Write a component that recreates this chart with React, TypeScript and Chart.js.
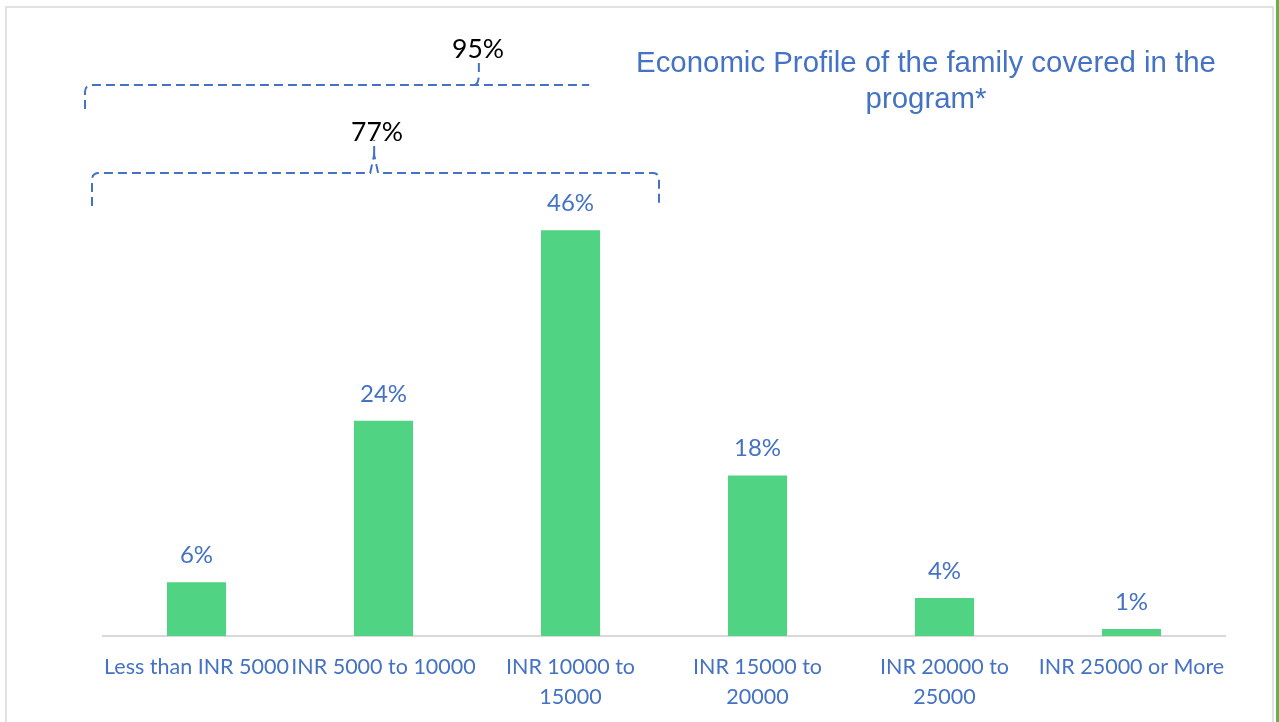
import React, { useEffect, useRef } from "react";
import { Chart, registerables } from "chart.js";

Chart.register(...registerables);

const categories: (string | string[])[] = [
  "Less than INR 5000",
  "INR 5000 to 10000",
  ["INR 10000 to", "15000"],
  ["INR 15000 to", "20000"],
  ["INR 20000 to", "25000"],
  "INR 25000 or More",
];
const shareValues: number[] = [6.1, 24.4, 46.0, 18.2, 4.3, 0.8];
const titleLines: string[] = ["Economic Profile of the family covered in the", "program*"];
const bracketLabels: string[] = ["95%", "77%"];

const BLUE = "#4472C4";
const GREEN = "#50D383";
const LABEL_FONT = "Lato, 'Noto Sans', sans-serif";

const decorPlugin = {
  id: "decor",
  beforeDraw(chart: any) {
    const ctx = chart.ctx;
    ctx.save();
    ctx.fillStyle = "#ffffff";
    ctx.fillRect(0, 0, chart.width, chart.height);
    // frame
    ctx.strokeStyle = "#D9D9D9";
    ctx.lineWidth = 1.5;
    ctx.beginPath();
    ctx.moveTo(6, 722);
    ctx.lineTo(6, 7);
    ctx.lineTo(1273, 7);
    ctx.lineTo(1273, 722);
    ctx.stroke();
    ctx.fillStyle = "#70AD47";
    ctx.fillRect(1276, 0, 3, 722);
    ctx.restore();
  },
  afterDraw(chart: any) {
    const ctx = chart.ctx;
    const x = chart.scales.x;
    ctx.save();
    // title
    ctx.fillStyle = BLUE;
    ctx.font = "29.4px 'Liberation Sans', Arial, sans-serif";
    ctx.textAlign = "center";
    ctx.textBaseline = "alphabetic";
    ctx.fillText(titleLines[0], 926, 72);
    ctx.fillText(titleLines[1], 926, 108);

    // data labels
    const meta = chart.getDatasetMeta(0);
    ctx.font = `24px ${LABEL_FONT}`;
    ctx.fillStyle = BLUE;
    meta.data.forEach((bar: any, i: number) => {
      ctx.fillText(Math.round(shareValues[i]) + "%", bar.x, bar.y - 19);
    });

    // brackets
    ctx.strokeStyle = BLUE;
    ctx.lineWidth = 2;
    ctx.setLineDash([9, 5]);
    const l1 = x.getPixelForValue(-0.5) - 18;
    const r1 = x.getPixelForValue(2.1);
    const c1 = x.getPixelForValue(1.51);
    ctx.beginPath();
    ctx.moveTo(l1, 109);
    ctx.lineTo(l1, 92);
    ctx.quadraticCurveTo(l1, 85, l1 + 7, 85);
    ctx.lineTo(r1, 85);
    ctx.stroke();
    ctx.beginPath();
    ctx.moveTo(c1 - 4, 85);
    ctx.quadraticCurveTo(c1, 83, c1, 74);
    ctx.lineTo(c1, 61);
    ctx.stroke();

    const l2 = x.getPixelForValue(-0.5) - 11;
    const r2 = x.getPixelForValue(2.5) - 5;
    const c2 = x.getPixelForValue(0.95);
    ctx.beginPath();
    ctx.moveTo(l2, 206);
    ctx.lineTo(l2, 180);
    ctx.quadraticCurveTo(l2, 173, l2 + 7, 173);
    ctx.lineTo(c2 - 4, 173);
    ctx.lineTo(c2, 155);
    ctx.lineTo(c2 + 4, 173);
    ctx.lineTo(r2 - 6, 173);
    ctx.quadraticCurveTo(r2, 173, r2, 180);
    ctx.lineTo(r2, 204);
    ctx.stroke();
    ctx.beginPath();
    ctx.moveTo(c2, 155);
    ctx.lineTo(c2, 140);
    ctx.stroke();
    ctx.setLineDash([]);

    ctx.fillStyle = "#000000";
    ctx.font = `26.5px ${LABEL_FONT}`;
    ctx.fillText(bracketLabels[0], 478, 58);
    ctx.fillText(bracketLabels[1], 377, 141);
    ctx.restore();
  },
};

export default function App() {
  const ref = useRef<HTMLCanvasElement | null>(null);
  useEffect(() => {
    if (!ref.current) return;
    const chart = new Chart(ref.current, {
      type: "bar",
      data: {
        labels: categories,
        datasets: [
          {
            data: shareValues,
            backgroundColor: GREEN,
            borderWidth: 0,
            barPercentage: 0.316,
            categoryPercentage: 1,
          },
        ],
      },
      options: {
        responsive: false,
        animation: false,
        layout: { padding: { left: 103, right: 54, top: 195, bottom: 0 } },
        plugins: {
          legend: { display: false },
          tooltip: { enabled: false },
          title: { display: false },
        },
        scales: {
          x: {
            grid: { display: false, drawTicks: false },
            border: { display: true, color: "#D9D9D9", width: 2 },
            ticks: {
              color: BLUE,
              font: { family: LABEL_FONT, size: 21.5, lineHeight: 1.4 },
              padding: 16,
              maxRotation: 0,
              autoSkip: false,
            },
            afterFit: (s: any) => {
              s.height = 86;
            },
          },
          y: { display: false, min: 0, max: 50 },
        },
      },
      plugins: [decorPlugin],
    });
    return () => chart.destroy();
  }, []);
  return (
    <div style={{ position: "absolute", left: 0, top: 0, width: 1279, height: 722 }}>
      <canvas ref={ref} width={1279} height={722} style={{ width: 1279, height: 722 }} />
    </div>
  );
}
